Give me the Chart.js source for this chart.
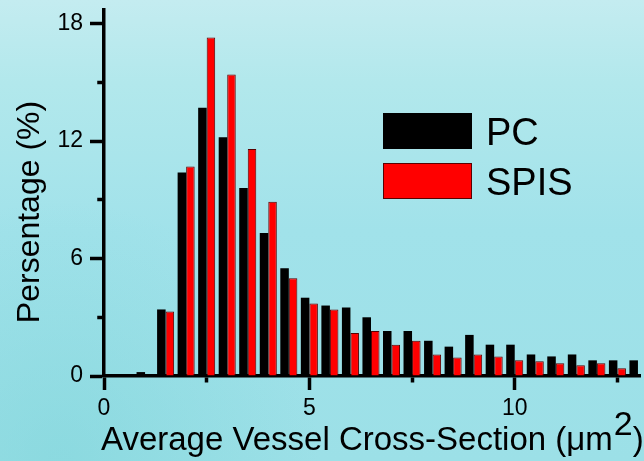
<!DOCTYPE html>
<html>
<head>
<meta charset="utf-8">
<script src="https://cdn.jsdelivr.net/npm/chart.js@4/dist/chart.umd.min.js"></script>
<style>
  html, body { margin: 0; padding: 0; background: #a0e2ea; }
  canvas { display: block; }
</style>
</head>
<body>
<canvas id="chart" width="644" height="461"></canvas>
<script>
// Histogram bins (centre of each 0.5 µm² class) and the share of vessels per class
const binCenters = [1.0, 1.5, 2.0, 2.5, 3.0, 3.5, 4.0, 4.5, 5.0, 5.5, 6.0, 6.5, 7.0,
                    7.5, 8.0, 8.5, 9.0, 9.5, 10.0, 10.5, 11.0, 11.5, 12.0, 12.5, 13.0];
const pcValues   = [0.2, 3.4, 10.4, 13.7, 12.2, 9.6, 7.3, 5.5, 4.0, 3.6, 3.5, 3.0, 2.3,
                    2.3, 1.8, 1.5, 2.1, 1.6, 1.6, 1.1, 1.0, 1.1, 0.8, 0.8, 0.8];
const spisValues = [0, 3.3, 10.7, 17.3, 15.4, 11.6, 8.9, 5.0, 3.7, 3.4, 2.2, 2.3, 1.6,
                    1.8, 1.1, 0.95, 1.1, 1.0, 0.8, 0.75, 0.65, 0.55, 0.65, 0.4, null];
const seriesNames = ['PC', 'SPIS'];

// Axis ticks: all tick marks, and the ones that carry a label
const yTickValues  = [0, 3, 6, 9, 12, 15, 18];
const yLabelValues = [0, 6, 12, 18];
const xTickValues  = [0, 2.5, 5, 7.5, 10, 12.5];
const xLabelValues = [0, 5, 10];

const yTitle = 'Persentage (%)';
const xTitleMain = 'Average Vessel Cross-Section (\u03BCm';
const xTitleSup = '2';
const xTitleEnd = ')';

const FONT = '"Liberation Sans", Arial, Helvetica, sans-serif';

const toPoints = vals => binCenters.map((x, i) => ({ x: x, y: vals[i] }));

// Teal backdrop over the whole canvas
const backdrop = {
  id: 'backdrop',
  beforeDraw(chart) {
    const { ctx, width, height } = chart;
    ctx.save();
    const g = ctx.createLinearGradient(0, 0, 0, height);
    g.addColorStop(0, '#c4ecf0');
    g.addColorStop(0.18, '#b2e8ec');
    g.addColorStop(0.5, '#a1e2ea');
    g.addColorStop(1, '#9ce0e7');
    ctx.fillStyle = g;
    ctx.fillRect(0, 0, width, height);
    const r = ctx.createRadialGradient(60, height, 10, 60, height, 260);
    r.addColorStop(0, 'rgba(120,210,215,0.45)');
    r.addColorStop(1, 'rgba(120,210,215,0)');
    ctx.fillStyle = r;
    ctx.fillRect(0, 0, width, height);
    ctx.restore();
  }
};

// Axis titles (the unit carries a raised "2")
const axisTitles = {
  id: 'axisTitles',
  afterDraw(chart) {
    const { ctx } = chart;
    const x = chart.scales.x, y = chart.scales.y;
    ctx.save();
    ctx.fillStyle = '#000';
    ctx.textAlign = 'left';
    ctx.textBaseline = 'alphabetic';
    const base = x.bottom - 11;
    let tx = x.left - 3;
    ctx.font = '33px ' + FONT;
    ctx.fillText(xTitleMain, tx, base);
    tx += ctx.measureText(xTitleMain).width + 1;
    ctx.font = '34px ' + FONT;
    ctx.fillText(xTitleSup, tx, base - 15);
    tx += ctx.measureText(xTitleSup).width;
    ctx.font = '33px ' + FONT;
    ctx.fillText(xTitleEnd, tx, base);

    ctx.translate(38.5, (y.top + y.bottom) / 2 + 19);
    ctx.rotate(-Math.PI / 2);
    ctx.textAlign = 'center';
    ctx.font = '32px ' + FONT;
    ctx.fillText(yTitle, 0, 0);
    ctx.restore();
  }
};

// Legend block inside the plot: wide swatches with large labels
const legendBlock = {
  id: 'legendBlock',
  afterDraw(chart) {
    const { ctx } = chart;
    ctx.save();
    chart.data.datasets.forEach((ds, i) => {
      const bx = 383, by = 113 + i * 50, bw = 89, bh = 36;
      ctx.fillStyle = ds.backgroundColor;
      ctx.fillRect(bx, by, bw, bh);
      ctx.strokeStyle = ds.borderColor;
      ctx.lineWidth = 1;
      ctx.strokeRect(bx + 0.5, by + 0.5, bw - 1, bh - 1);
      ctx.fillStyle = '#000';
      ctx.font = '38px ' + FONT;
      ctx.textAlign = 'left';
      ctx.textBaseline = 'alphabetic';
      ctx.fillText(ds.label, 486, by + bh / 2 + 13.5);
    });
    ctx.restore();
  }
};

const tickFont = { family: FONT, size: 23 };

new Chart(document.getElementById('chart'), {
  type: 'bar',
  data: {
    datasets: [
      {
        label: seriesNames[0],
        data: toPoints(pcValues),
        backgroundColor: '#000000',
        borderColor: '#000000',
        borderWidth: 0
      },
      {
        label: seriesNames[1],
        data: toPoints(spisValues),
        backgroundColor: '#ff0000',
        borderColor: '#5a0000',
        borderWidth: 1
      }
    ]
  },
  options: {
    responsive: false,
    devicePixelRatio: 1,
    animation: false,
    categoryPercentage: 0.83,
    barPercentage: 1.0,
    layout: { padding: { top: 10, right: 4, left: 0, bottom: 0 } },
    plugins: {
      legend: { display: false },
      tooltip: { enabled: false }
    },
    scales: {
      x: {
        type: 'linear',
        offset: false,
        min: 0,
        max: 13.05,
        afterBuildTicks: s => { s.ticks = xTickValues.map(v => ({ value: v })); },
        afterFit: s => { s.height = 85; s.paddingLeft = 0; s.paddingRight = 0; },
        ticks: {
          autoSkip: false,
          maxRotation: 0,
          padding: 5,
          color: '#000',
          font: tickFont,
          callback: v => (xLabelValues.includes(v) ? String(v) : '')
        },
        grid: {
          offset: false,
          drawOnChartArea: false,
          drawTicks: true,
          tickLength: 14,
          tickWidth: 3.5,
          tickColor: '#000',
          tickBorderDash: c => (c.tick && xLabelValues.includes(c.tick.value) ? [] : [5, 30]),
          tickBorderDashOffset: 0
        },
        border: { display: true, color: '#000', width: 3.5 }
      },
      y: {
        type: 'linear',
        min: 0,
        max: 18.7,
        afterBuildTicks: s => { s.ticks = yTickValues.map(v => ({ value: v })); },
        afterFit: s => { s.width = 104; s.paddingTop = 0; s.paddingBottom = 0; },
        ticks: {
          padding: 7,
          color: '#000',
          font: tickFont,
          callback: v => (yLabelValues.includes(v) ? String(v) : '')
        },
        grid: {
          drawOnChartArea: false,
          drawTicks: true,
          tickLength: 14,
          tickWidth: 3.5,
          tickColor: '#000',
          tickBorderDash: c => (c.tick && yLabelValues.includes(c.tick.value) ? [] : [5, 7.25]),
          tickBorderDashOffset: c => (c.tick && yLabelValues.includes(c.tick.value) ? 0 : 5)
        },
        border: { display: true, color: '#000', width: 3.5 }
      }
    }
  },
  plugins: [backdrop, axisTitles, legendBlock]
});
</script>
</body>
</html>
